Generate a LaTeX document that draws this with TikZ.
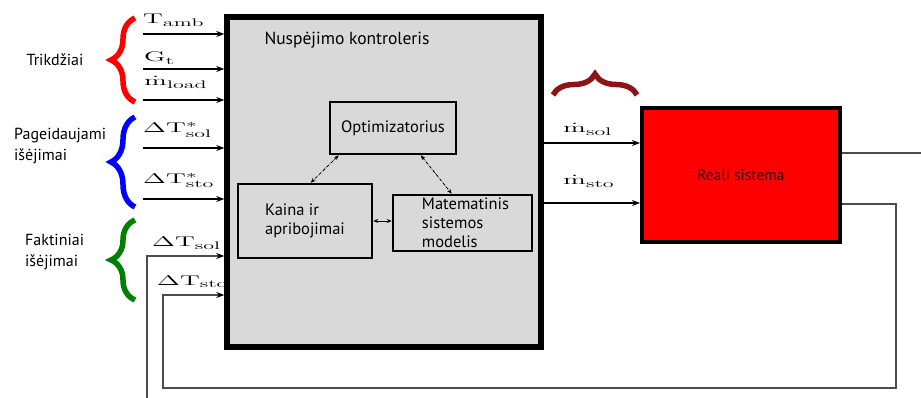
\RequirePackage{fix-cm}
\documentclass[tikz,border=0pt]{standalone}
\usepackage{graphicx}
\usepackage{fontspec}
\setsansfont{PT Sans}
\usetikzlibrary{arrows.meta,decorations.pathreplacing}
\DeclareMathSizes{14}{14}{11}{9}
\definecolor{brn}{RGB}{140,20,20}
\definecolor{rtext}{RGB}{45,0,0}
\newcommand\mlab[1]{\scalebox{2}[1]{\fontsize{14}{14}\selectfont$#1$}}
\begin{document}
\begin{tikzpicture}[x=1pt,y=-1pt,
  arr/.style={line width=1.3pt,-{Stealth[length=8pt,width=6pt]}},
  fb/.style={line width=1.2pt,black!70},
  fbarr/.style={line width=1.2pt,black!70,-{Stealth[length=8pt,width=6pt,color=black]}},
  ml/.style={inner sep=0pt,anchor=base west},
  sl/.style={font=\sffamily\fontsize{16}{21}\selectfont,inner sep=0pt,align=left},
  inbox/.style={draw,line width=2.5pt,fill=gray!30,font=\sffamily\fontsize{16.5}{19}\selectfont,align=left,inner sep=0pt},
  dd/.style={densely dashdotted,line width=0.8pt,{Stealth[length=5pt,width=4pt]}-{Stealth[length=5pt,width=4pt]}},
  brc/.style={decorate,decoration={brace,amplitude=#1},line width=5.5pt}]
\useasboundingbox (0,0) rectangle (921,398);

% labels on the left of main box (drawn first, box covers overflow)
\node[ml] (lTamb) at (143,24) {\mlab{\mathrm{T_{amb}}}};
\node[ml] (lGt) at (144,62) {\mlab{\mathrm{G_{t}}}};
\node[ml] (lml) at (144,86) {\mlab{\dot{\mathrm{m}}_{\mathrm{load}}}};
\node[ml] (lTss) at (143,133) {\mlab{\Delta\mathrm{T^{*}_{sol}}}};
\node[ml] (lTst) at (143,184) {\mlab{\Delta\mathrm{T^{*}_{sto}}}};
\node[ml] (lTs) at (152,247) {\mlab{\Delta\mathrm{T_{sol}}}};
\node[ml] (lTt) at (157,285) {\mlab{\Delta\mathrm{T_{sto}}}};

% main controller box
\node[draw,line width=5.5pt,fill=gray!30,minimum width=314pt,minimum height=330pt,inner sep=0pt] (main) at (384,182) {};
\node[font=\sffamily\fontsize{17.5}{20}\selectfont,inner sep=0pt] (title) at (347,40) {Nuspėjimo kontroleris};

\node[inbox,minimum width=126pt,minimum height=52pt] (opt) at (393,128) {Optimizatorius};
\node[inbox,minimum width=134pt,minimum height=74pt] (kaina) at (305,221) {Kaina ir\\apribojimai};
\node[inbox,minimum width=139pt,minimum height=56pt] (mat) at (462.5,223) {\hspace*{6pt}Matematinis\\\hspace*{6pt}sistemos\\\hspace*{6pt}modelis};

\draw[dd] ([xshift=10pt]opt.south west) -- ([xshift=74pt]kaina.north west);
\draw[dd] ([xshift=92pt]opt.south west) -- ([xshift=60pt]mat.north west);
\draw[line width=0.8pt,{Stealth[length=5pt,width=4pt]}-{Stealth[length=5pt,width=4pt]}] (kaina.east) -- (kaina.east -| mat.west);

% real system
\node[draw,line width=4pt,fill=red,minimum width=198pt,minimum height=134pt,inner sep=0pt,
      font=\sffamily\fontsize{15.5}{18}\selectfont,text=rtext] (real) at (741,175) {Reali sistema};

% input arrows
\coordinate (s1) at (143,34);
\coordinate (s2) at (143,69);
\coordinate (s3) at (143,100);
\coordinate (s4) at (143,148);
\coordinate (s5) at (143,199);
\draw[arr] (s1) -- (s1 -| main.west);
\draw[arr] (s2) -- (s2 -| main.west);
\draw[arr] (s3) -- (s3 -| main.west);
\draw[arr] (s4) -- (s4 -| main.west);
\draw[arr] (s5) -- (s5 -| main.west);

% outputs to real system
\coordinate (o1) at (560,143);
\coordinate (o2) at (560,203);
\draw[arr] (o1 -| main.east) -- (o1 -| real.west);
\draw[arr] (o2 -| main.east) -- (o2 -| real.west);
\node[ml] (lms) at (563,133) {\mlab{\dot{\mathrm{m}}_{\mathrm{sol}}}};
\node[ml] (lmt) at (563,185) {\mlab{\dot{\mathrm{m}}_{\mathrm{sto}}}};

% feedback lines
\coordinate (f1) at (921,153);
\draw[fb] (f1 -| real.east) -- (f1);
\coordinate (s6) at (147,398);
\coordinate (k6) at (147,256);
\draw[fbarr] (s6) -- (k6) -- (k6 -| main.west);
\coordinate (f2) at (896,204);
\coordinate (f3) at (896,388);
\coordinate (f4) at (163,388);
\coordinate (f5) at (163,295);
\draw[fbarr] (f2 -| real.east) -- (f2) -- (f3) -- (f4) -- (f5) -- (f5 -| main.west);

% braces
\draw[brc=24,red] (135,102) -- (135,18);
\draw[brc=24,blue] (135,207) -- (135,117);
\draw[brc=24,green!50!black] (135,300) -- (135,220);
\draw[brc=21,brn] (553,95) -- (637,95);

% side labels
\node[sl] (trik) at (55,60) {Trikdžiai};
\node[sl,anchor=west] (pag) at (14,146) {Pageidaujami\\išėjimai};
\node[sl,anchor=west] (fak) at (25,252) {Faktiniai\\išėjimai};
\end{tikzpicture}
\end{document}
